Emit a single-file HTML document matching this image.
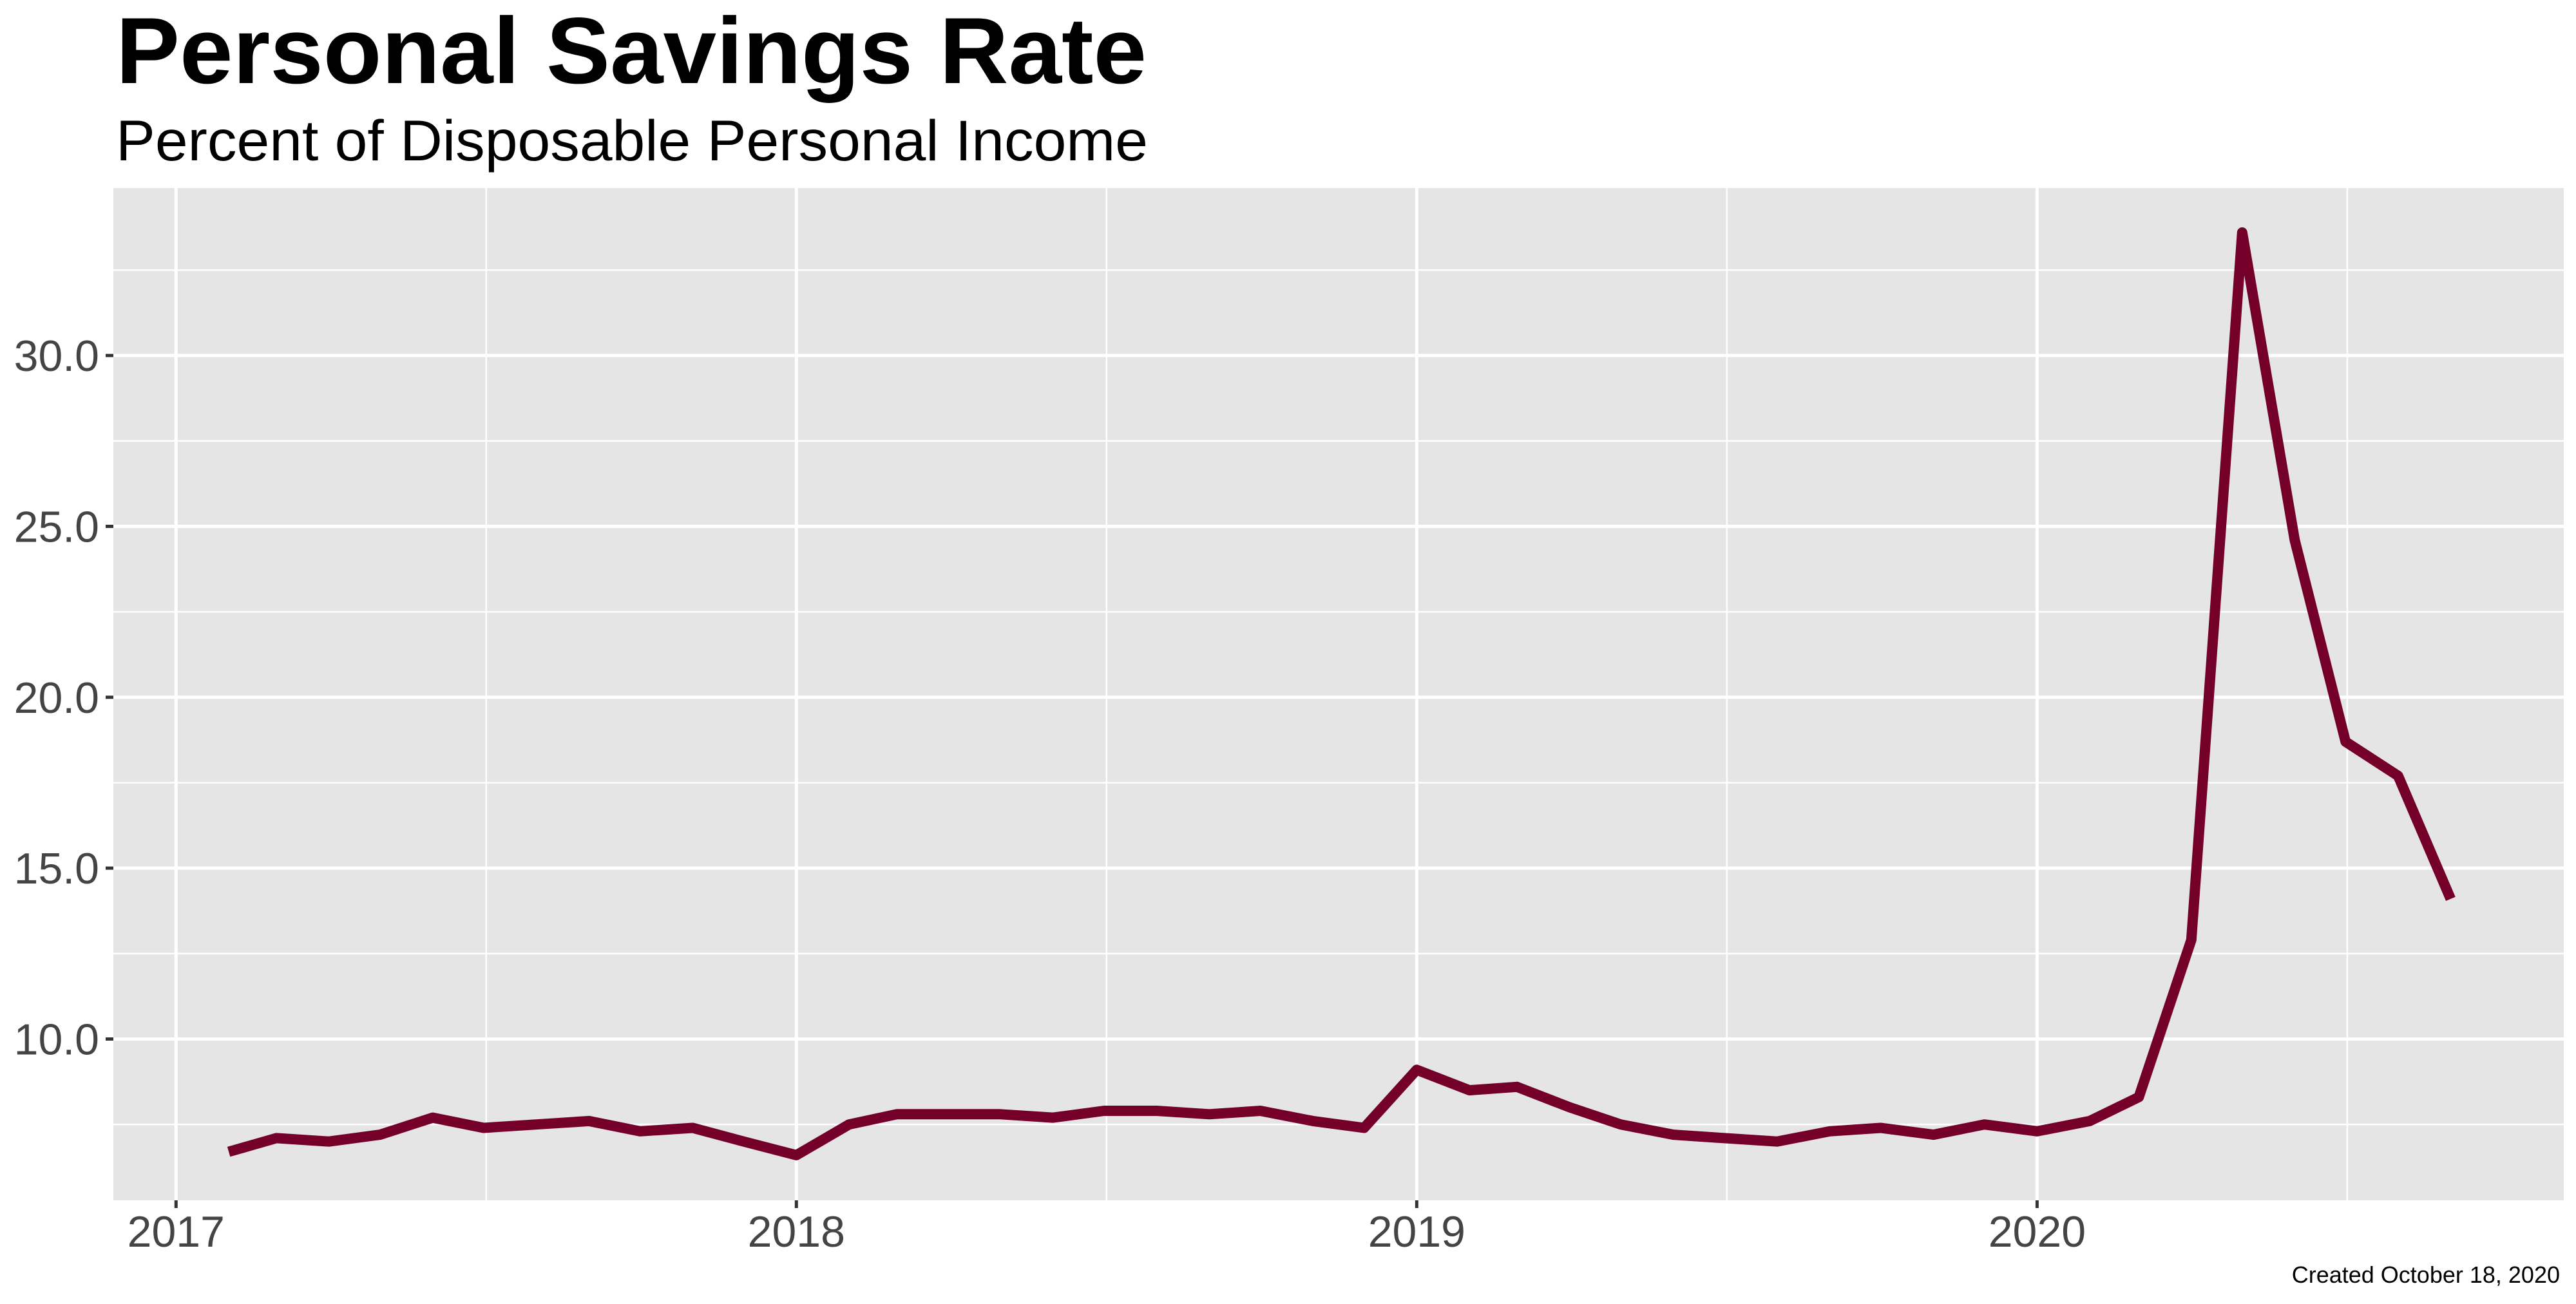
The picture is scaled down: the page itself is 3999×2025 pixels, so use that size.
<!DOCTYPE html>
<html><head><meta charset="utf-8"><style>
html,body{margin:0;padding:0;background:#fff;}
svg{display:block;font-family:"Liberation Sans",Arial,sans-serif;}
</style></head><body>
<svg id="chart" width="3999" height="2025" viewBox="0 0 3999 2025" xmlns="http://www.w3.org/2000/svg">
<rect width="3999" height="2025" fill="#fff"/>
<text x="180" y="129" font-size="146" font-weight="bold" fill="#000" textLength="1600" lengthAdjust="spacingAndGlyphs">Personal Savings Rate</text>
<text x="180" y="249" font-size="89" fill="#000" textLength="1602" lengthAdjust="spacingAndGlyphs">Percent of Disposable Personal Income</text>
<rect x="176" y="292" width="3804" height="1572" fill="#e5e5e5"/>
<g id="grid"></g>
<g id="axes"></g>
<path id="line" fill="none" stroke="#74002a" stroke-width="16" stroke-linejoin="round" stroke-linecap="butt"/>
<text x="3974" y="1992" font-size="36" fill="#000" text-anchor="end">Created October 18, 2020</text>
</svg>
<script>
const values = [6.7,7.1,7.0,7.2,7.7,7.4,7.5,7.6,7.3,7.4,7.0,
 6.6,7.5,7.8,7.8,7.8,7.7,7.9,7.9,7.8,7.9,7.6,7.4,
 9.1,8.5,8.6,8.0,7.5,7.2,7.1,7.0,7.3,7.4,7.2,7.5,
 7.3,7.6,8.3,12.9,33.6,24.6,18.7,17.7,14.1];
const startYear = 2017, startMonth = 1; // Feb 2017
const yTicks = [10,15,20,25,30];
const yTickLabels = ["10.0","15.0","20.0","25.0","30.0"];
const yMinor = [7.5,12.5,17.5,22.5,27.5,32.5];
const xTicks = [2017,2018,2019,2020];
const xTickLabels = ["2017","2018","2019","2020"];
const xMinor = [2017.5,2018.5,2019.5,2020.5];

const PL=176, PR=3980, PT=292, PB=1864;
const X0=2016.899, X1=2020.849, Y0=5.28, Y1=34.9;
const xs = v => PL + (v-X0)/(X1-X0)*(PR-PL);
const ys = v => PB - (v-Y0)/(Y1-Y0)*(PB-PT);
const NS="http://www.w3.org/2000/svg";
function mk(tag, attrs, parent){const e=document.createElementNS(NS,tag);for(const k in attrs)e.setAttribute(k,attrs[k]);parent.appendChild(e);return e;}
const grid=document.getElementById('grid'), axes=document.getElementById('axes');
yMinor.forEach(v=>{const l=mk('line',{x1:PL,x2:PR,y1:ys(v),y2:ys(v),stroke:'#fff','stroke-width':2.5},grid);

});
xMinor.forEach(v=>{const l=mk('line',{x1:xs(v),x2:xs(v),y1:PT,y2:PB,stroke:'#fff','stroke-width':2.5},grid);

});
yTicks.forEach((v,i)=>{const y=ys(v);
const l=mk('line',{x1:PL,x2:PR,y1:y,y2:y,stroke:'#fff','stroke-width':5},grid);


const t=mk('line',{x1:PL-12,x2:PL,y1:y,y2:y,stroke:'#333','stroke-width':5},axes);


const tx=mk('text',{x:PL-22,y:y+24,'font-size':68,fill:'#444','text-anchor':'end'},axes);
tx.textContent=yTickLabels[i];

});
xTicks.forEach((v,i)=>{const x=xs(v);
const l=mk('line',{x1:x,x2:x,y1:PT,y2:PB,stroke:'#fff','stroke-width':5},grid);


const t=mk('line',{x1:x,x2:x,y1:PB,y2:PB+12,stroke:'#333','stroke-width':5},axes);


const tx=mk('text',{x:x,y:PB+72,'font-size':68,fill:'#444','text-anchor':'middle'},axes);
tx.textContent=xTickLabels[i];

});
function dec(i){const m=startMonth+i;const yr=startYear+Math.floor(m/12);const mo=m%12;
const d0=Date.UTC(yr,0,1),d=Date.UTC(yr,mo,1),d1=Date.UTC(yr+1,0,1);return yr+(d-d0)/(d1-d0);}
document.getElementById('line').setAttribute('d',values.map((v,i)=>(i?'L':'M')+xs(dec(i)).toFixed(1)+','+ys(v).toFixed(1)).join(' '));
</script>
</body></html>
